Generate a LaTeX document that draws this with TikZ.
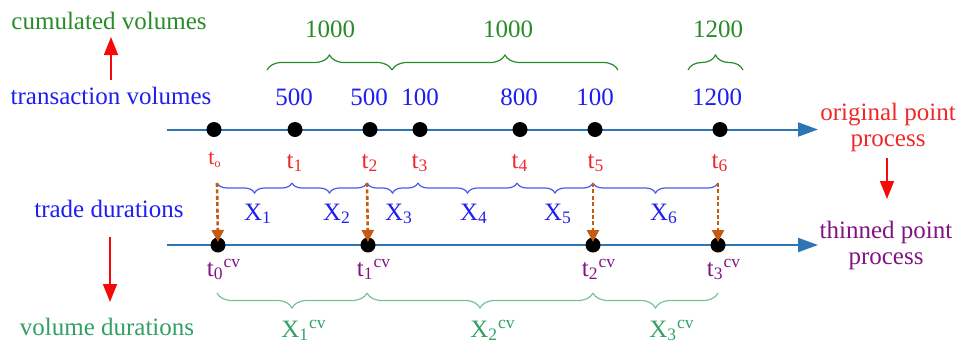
\documentclass[tikz,border=0pt]{standalone}
\usepackage{fontspec}
\setmainfont{LiberationSerif}[Extension=.ttf,UprightFont=*-Regular,BoldFont=*-Bold,ItalicFont=*-Italic]
\usetikzlibrary{arrows.meta,decorations.pathreplacing}
\definecolor{cumgreen}{RGB}{40,140,40}
\definecolor{volgreen}{RGB}{50,160,100}
\definecolor{bracegreen}{RGB}{120,195,150}
\definecolor{txtblue}{RGB}{30,30,240}
\definecolor{braceblue}{RGB}{70,90,235}
\definecolor{tred}{RGB}{240,40,40}
\definecolor{arrred}{RGB}{245,10,10}
\definecolor{thinpurple}{RGB}{130,20,130}
\definecolor{axisblue}{RGB}{46,117,182}
\definecolor{dashorange}{RGB}{197,90,17}
\newcommand{\lsub}[1]{\textsubscript{#1}}
\newcommand{\lsup}[1]{\textsuperscript{#1}}
\begin{document}
\begin{tikzpicture}[x=0.5pt,y=-0.5pt,
  font=\fontsize{12.5}{14}\selectfont,
  dot/.style={circle,fill=black,inner sep=0pt,minimum size=7.5pt},
  axisline/.style={draw=axisblue,line width=1pt,-{Triangle[length=10pt,width=7pt]}},
  redarrow/.style={draw=arrred,line width=0.8pt,-{Triangle[length=9pt,width=7pt]}},
  thinarrow/.style={draw=dashorange,line width=1.3pt,dash pattern=on 2pt off 1.2pt,
     -{Triangle[length=6pt,width=6pt]},shorten >=1.5pt},
  brc/.style={decorate,decoration={brace,amplitude=#1}},
  brcm/.style={decorate,decoration={brace,mirror,amplitude=#1}},
  lbl/.style={inner sep=0pt,anchor=center}
]
\useasboundingbox (0,0) rectangle (959,349);

% axes
\coordinate (ta0) at (167,129.5);
\coordinate (ta1) at (818,129.5);
\coordinate (ba0) at (167,245);
\coordinate (ba1) at (818,245);
\draw[axisline] (ta0) -- (ta1);
\draw[axisline] (ba0) -- (ba1);

% top dots
\node[dot] (p0) at (214,129.5) {};
\node[dot] (p1) at (295,129.5) {};
\node[dot] (p2) at (370,129.5) {};
\node[dot] (p3) at (420,129.5) {};
\node[dot] (p4) at (520,129.5) {};
\node[dot] (p5) at (595,129.5) {};
\node[dot] (p6) at (720,129.5) {};

% bottom dots
\node[dot] (b0) at (218,245) {};
\node[dot] (b1) at (368,245) {};
\node[dot] (b2) at (593,245) {};
\node[dot] (b3) at (718,245) {};

% left labels
\node[lbl,text=cumgreen] (lcum) at (109,21) {cumulated volumes};
\node[lbl,text=txtblue] (ltv) at (111,96) {transaction volumes};
\node[lbl,text=txtblue] (ltd) at (109,209) {trade durations};
\node[lbl,text=volgreen] (lvd) at (107,327) {volume durations};
\coordinate (ua0) at (111,80);
\coordinate (ua1) at (111,37);
\draw[redarrow] (ua0) -- (ua1);
\coordinate (da0) at (110,237);
\coordinate (da1) at (110,302);
\draw[redarrow] (da0) -- (da1);

% right labels
\node[lbl,text=tred,align=center,font=\fontsize{12.5}{13}\selectfont] (orig) at (888,127) {original point\\process};
\node[lbl,text=thinpurple,align=center,font=\fontsize{12.5}{13}\selectfont] (thin) at (886,245) {thinned point\\process};
\coordinate (ra0) at (887,158);
\coordinate (ra1) at (887,199);
\draw[redarrow] (ra0) -- (ra1);

% cumulated volumes braces
\coordinate (g0) at (267,70);
\coordinate (g1) at (392,70);
\coordinate (g2) at (618,70);
\coordinate (g3) at (688,70);
\coordinate (g4) at (743,70);
\draw[cumgreen,line width=0.6pt,brc=7.5pt] (g0) -- (g1);
\draw[cumgreen,line width=0.6pt,brc=7.5pt] (g1) -- (g2);
\draw[cumgreen,line width=0.6pt,brc=7.5pt] (g3) -- (g4);
\node[lbl,text=cumgreen] (c1) at (330,29) {1000};
\node[lbl,text=cumgreen] (c2) at (508,29) {1000};
\node[lbl,text=cumgreen] (c3) at (718,29) {1200};

% transaction volumes
\node[lbl,text=txtblue] (v1) at (294,97) {500};
\node[lbl,text=txtblue] (v2) at (369,97) {500};
\node[lbl,text=txtblue] (v3) at (420,97) {100};
\node[lbl,text=txtblue] (v4) at (519,97) {800};
\node[lbl,text=txtblue] (v5) at (595,97) {100};
\node[lbl,text=txtblue] (v6) at (717,97) {1200};

% t labels
\node[lbl,text=tred,font=\fontsize{11}{12}\selectfont] (t0) at (215,160) {t\textsubscript{\fontsize{6}{7}\selectfont o}};
\node[lbl,text=tred,anchor=base] (t1) at (295,168) {t\lsub{1}};
\node[lbl,text=tred,anchor=base] (t2) at (370,168) {t\lsub{2}};
\node[lbl,text=tred,anchor=base] (t3) at (420,168) {t\lsub{3}};
\node[lbl,text=tred,anchor=base] (t4) at (520,168) {t\lsub{4}};
\node[lbl,text=tred,anchor=base] (t5) at (596,168) {t\lsub{5}};
\node[lbl,text=tred,anchor=base] (t6) at (720,168) {t\lsub{6}};

% trade duration braces
\coordinate (d0) at (217,183);
\coordinate (d1) at (292,183);
\coordinate (d2) at (367,183);
\coordinate (d3) at (418,183);
\coordinate (d4) at (517,183);
\coordinate (d5) at (593,183);
\coordinate (d6) at (718,183);
\foreach \a/\b in {d0/d1,d1/d2,d2/d3,d3/d4,d4/d5,d5/d6}
  \draw[braceblue,line width=0.6pt,brcm=5pt] (\a) -- (\b);
\node[lbl,text=txtblue,anchor=base] (x1) at (258,220) {X\lsub{1}};
\node[lbl,text=txtblue,anchor=base] (x2) at (337,220) {X\lsub{2}};
\node[lbl,text=txtblue,anchor=base] (x3) at (399,220) {X\lsub{3}};
\node[lbl,text=txtblue,anchor=base] (x4) at (474,220) {X\lsub{4}};
\node[lbl,text=txtblue,anchor=base] (x5) at (558,220) {X\lsub{5}};
\node[lbl,text=txtblue,anchor=base] (x6) at (664,220) {X\lsub{6}};

% thinning arrows
\draw[thinarrow] (d0) -- (b0.center);
\draw[thinarrow] (d2) -- (b1.center);
\draw[thinarrow] (d5) -- (b2.center);
\draw[thinarrow] (d6) -- (b3.center);

% thinned labels
\node[lbl,text=thinpurple,anchor=base] (s0) at (224,276) {t\lsub{0}\lsup{cv}};
\node[lbl,text=thinpurple,anchor=base] (s1) at (374,276) {t\lsub{1}\lsup{cv}};
\node[lbl,text=thinpurple,anchor=base] (s2) at (599,276) {t\lsub{2}\lsup{cv}};
\node[lbl,text=thinpurple,anchor=base] (s3) at (724,276) {t\lsub{3}\lsup{cv}};

% volume duration braces
\coordinate (e0) at (217,293);
\coordinate (e1) at (367,293);
\coordinate (e2) at (593,293);
\coordinate (e3) at (718,293);
\draw[bracegreen,line width=0.6pt,brcm=7.5pt] (e0) -- (e1);
\draw[bracegreen,line width=0.6pt,brcm=7.5pt] (e1) -- (e2);
\draw[bracegreen,line width=0.6pt,brcm=7.5pt] (e2) -- (e3);
\node[lbl,text=volgreen,anchor=base] (y1) at (304,337) {X\lsub{1}\lsup{cv}};
\node[lbl,text=volgreen,anchor=base] (y2) at (493,337) {X\lsub{2}\lsup{cv}};
\node[lbl,text=volgreen,anchor=base] (y3) at (672,337) {X\lsub{3}\lsup{cv}};
\end{tikzpicture}
\end{document}
